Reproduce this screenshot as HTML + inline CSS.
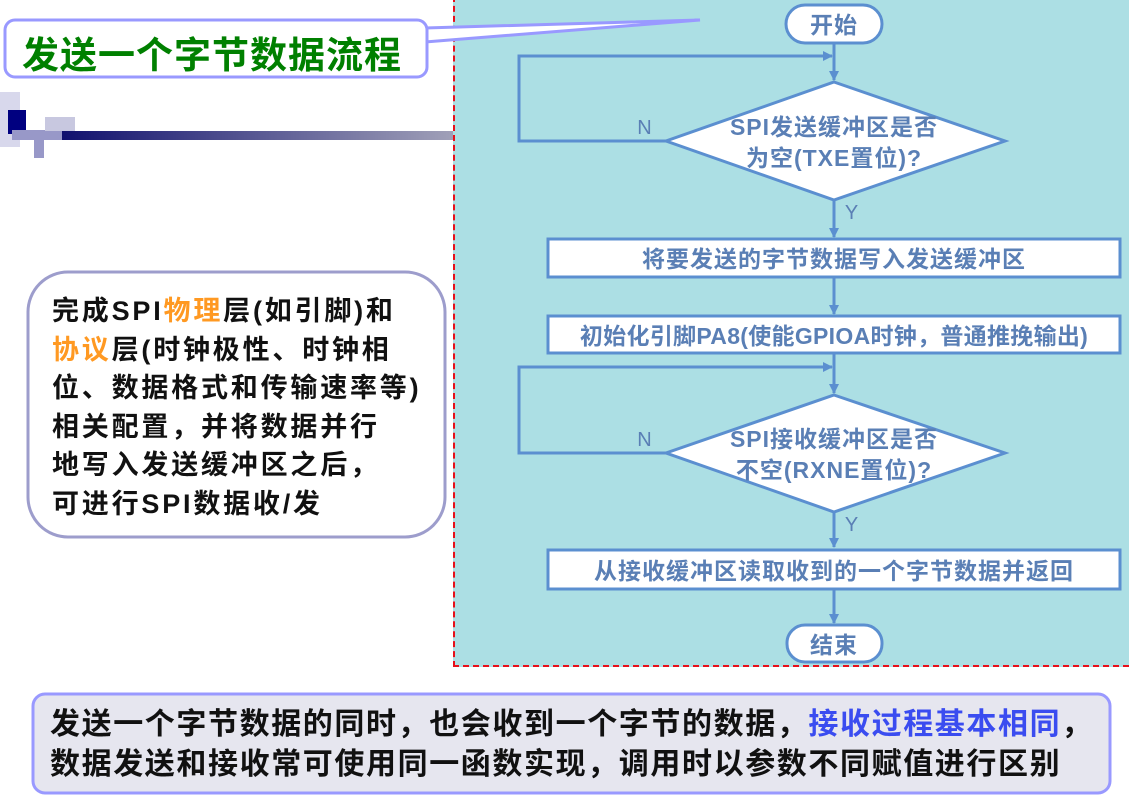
<!DOCTYPE html>
<html><head><meta charset="utf-8"><style>
body{margin:0;width:1129px;height:798px;background:#fff;position:relative;overflow:hidden;font-family:"Liberation Sans","Noto Sans CJK SC",sans-serif}
.t{position:absolute;white-space:nowrap;font-weight:bold}
</style></head><body>
<div style="position:absolute;left:453px;top:-4px;width:676px;height:671px;background:#acdfe4;border:2px dashed #e8101a;box-sizing:border-box;border-right:none"></div>
<svg style="position:absolute;left:0;top:0" width="1129" height="798">
<defs><linearGradient id="g" x1="0" x2="1"><stop offset="0" stop-color="#10106e"/><stop offset="1" stop-color="#a0a0b8"/></linearGradient>
<marker id="a" markerWidth="10" markerHeight="10" refX="9" refY="5" orient="auto" markerUnits="userSpaceOnUse"><path d="M0,0L10,5L0,10z" fill="#5b8fd0"/></marker></defs>
<rect x="60" y="131" width="393" height="9" fill="url(#g)"/>
<rect x="0" y="92" width="20" height="55" fill="#d8d8ec"/>
<rect x="8" y="110" width="18" height="24" fill="#000080"/>
<rect x="12" y="130" width="50" height="10" fill="#9898c8"/>
<rect x="45" y="117" width="30" height="14" fill="#c8c8e0"/>
<rect x="34" y="140" width="10" height="18" fill="#9898c8"/>
<polygon points="425,28 700,20 425,42" fill="#fff" stroke="#9999ff" stroke-width="3"/>
<rect x="5" y="20" width="422" height="57" rx="10" fill="#fff" stroke="#9999ff" stroke-width="3"/>
<rect x="28" y="272" width="417" height="265" rx="40" fill="#fff" stroke="#9d9dcc" stroke-width="3"/>
<rect x="33" y="694" width="1077" height="99" rx="12" fill="#e6e6ef" stroke="#9999ff" stroke-width="3"/>
<g stroke="#5b8fd0" stroke-width="3" fill="none">
<line x1="834" y1="43" x2="834" y2="80" marker-end="url(#a)"/>
<polyline points="666,141 519,141 519,56 832,56" marker-end="url(#a)"/>
<line x1="834" y1="200" x2="834" y2="237" marker-end="url(#a)"/>
<line x1="834" y1="277" x2="834" y2="314" marker-end="url(#a)"/>
<line x1="834" y1="353" x2="834" y2="393" marker-end="url(#a)"/>
<polyline points="666,453 519,453 519,367 832,367" marker-end="url(#a)"/>
<line x1="834" y1="512" x2="834" y2="547" marker-end="url(#a)"/>
<line x1="834" y1="589" x2="834" y2="623" marker-end="url(#a)"/>
</g>
<g stroke="#5b8fd0" stroke-width="3" fill="#fff">
<rect x="786" y="5" width="96" height="38" rx="19"/>
<polygon points="834,82 1005,141 834,200 666,141"/>
<rect x="548" y="239" width="572" height="38"/>
<rect x="548" y="316" width="572" height="37"/>
<polygon points="834,395 1005,453 834,512 666,453"/>
<rect x="548" y="550" width="572" height="39"/>
<rect x="787" y="625" width="95" height="37" rx="18"/>
</g>
<g fill="#5a7fb5" font-weight="bold" font-size="23" letter-spacing="1" text-anchor="middle" font-family="Liberation Sans,Noto Sans CJK SC,sans-serif">
<text x="834" y="33">开始</text>
<text x="834" y="135">SPI发送缓冲区是否</text>
<text x="834" y="166">为空(TXE置位)?</text>
<text x="834" y="267">将要发送的字节数据写入发送缓冲区</text>
<text x="834" y="344" letter-spacing="0.3">初始化引脚PA8(使能GPIOA时钟，普通推挽输出)</text>
<text x="834" y="447">SPI接收缓冲区是否</text>
<text x="834" y="478">不空(RXNE置位)?</text>
<text x="834" y="579">从接收缓冲区读取收到的一个字节数据并返回</text>
<text x="834" y="653">结束</text>
<text x="645" y="134" font-weight="normal" font-size="20">N</text>
<text x="645" y="446" font-weight="normal" font-size="20">N</text>
<text x="852" y="219" font-weight="normal" font-size="20">Y</text>
<text x="852" y="531" font-weight="normal" font-size="20">Y</text>
</g>
</svg>
<div class="t" style="left:22px;top:25px;font-size:37px;letter-spacing:1px;color:#008000">发送一个字节数据流程</div>
<div style="position:absolute;left:52px;top:292px;font-size:27px;letter-spacing:2.8px;font-weight:bold;line-height:38.5px;color:#111;white-space:nowrap">完成SPI<span style="color:#ff9922">物理</span>层(如引脚)和<br><span style="color:#ff9922">协议</span>层(时钟极性、时钟相<br>位、数据格式和传输速率等)<br>相关配置，并将数据并行<br>地写入发送缓冲区之后，<br>可进行SPI数据收/发</div>
<div style="position:absolute;left:50px;top:705px;font-size:30px;letter-spacing:1.6px;font-weight:bold;line-height:40px;color:#111;white-space:nowrap">发送一个字节数据的同时，也会收到一个字节的数据，<span style="color:#3a4cf0">接收过程基本相同</span>，<br>数据发送和接收常可使用同一函数实现，调用时以参数不同赋值进行区别</div>
</body></html>
